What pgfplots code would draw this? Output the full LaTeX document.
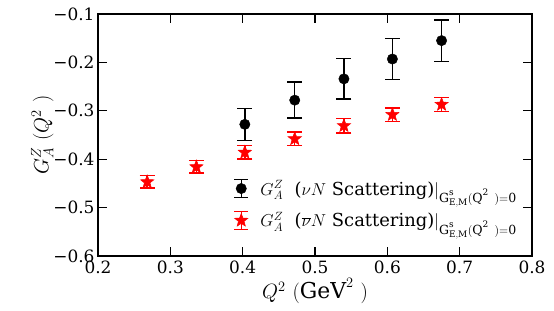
\documentclass[border=0pt]{standalone}
\usepackage{pgfplots}
\pgfplotsset{compat=1.18}
\usepackage{fontspec}
\setmainfont{DejaVu Serif}
\pgfdeclareplotmark{fstar}{%
  \pgfpathmoveto{\pgfpointpolar{90}{\pgfplotmarksize}}%
  \pgfpathlineto{\pgfpointpolar{126}{0.42\pgfplotmarksize}}%
  \pgfpathlineto{\pgfpointpolar{162}{\pgfplotmarksize}}%
  \pgfpathlineto{\pgfpointpolar{198}{0.42\pgfplotmarksize}}%
  \pgfpathlineto{\pgfpointpolar{234}{\pgfplotmarksize}}%
  \pgfpathlineto{\pgfpointpolar{270}{0.42\pgfplotmarksize}}%
  \pgfpathlineto{\pgfpointpolar{306}{\pgfplotmarksize}}%
  \pgfpathlineto{\pgfpointpolar{342}{0.42\pgfplotmarksize}}%
  \pgfpathlineto{\pgfpointpolar{18}{\pgfplotmarksize}}%
  \pgfpathlineto{\pgfpointpolar{54}{0.42\pgfplotmarksize}}%
  \pgfpathclose
  \pgfusepathqfillstroke
}
\begin{document}
\begin{tikzpicture}
\useasboundingbox (-98bp,-55bp) rectangle (456bp,256bp);
\begin{axis}[
  scale only axis, width=434bp, height=242bp,
  xmin=0.2, xmax=0.8, ymin=-0.6, ymax=-0.1,
  xtick={0.2,0.3,...,0.8}, ytick={-0.6,-0.5,...,-0.1},
  /pgf/number format/assume math mode=true,
  yticklabel={\pgfmathparse{abs(\tick)}\textminus\pgfmathprintnumber[fixed,precision=1,fixed zerofill]{\pgfmathresult}},
  xticklabel={\pgfmathprintnumber[fixed,precision=1,fixed zerofill]{\tick}},
  tick label style={font=\fontsize{17}{19}\selectfont},
  xticklabel style={yshift=-1bp},
  tick style={black, line width=1.2pt},
  major tick length=9bp,
  tick align=inside,
  axis line style={line width=1.6pt},
  xlabel={$Q^2\ (\mathrm{GeV}^2\ )$},
  ylabel={$G_A^Z\ (Q^2\ )$},
  every axis label/.append style={font=\fontsize{22}{24}\selectfont},
  xlabel style={yshift=2bp},
  ylabel style={yshift=-7bp},
  legend style={at={(0.97,0.105)}, anchor=south east, draw=none, fill=none,
    font=\fontsize{18}{20}\selectfont, row sep=12bp, inner sep=0pt},
  legend cell align=left,
  legend image code/.code={
    \path (0cm,0cm) (0.9cm,0cm);
    \draw[#1,mark=none,sharp plot,line width=1.5pt] plot coordinates {(0.3cm,-0.32cm) (0.3cm,0.32cm)};
    \draw[#1,mark=none,sharp plot,line width=1.5pt] plot coordinates {(0.05cm,-0.32cm) (0.55cm,-0.32cm)};
    \draw[#1,mark=none,sharp plot,line width=1.5pt] plot coordinates {(0.05cm,0.32cm) (0.55cm,0.32cm)};
    \draw[#1,draw=none] plot coordinates {(0.3cm,0cm)};
  },
]
\addplot+[black, only marks, mark=*, mark size=5.2bp, mark options={fill=black},
  error bars/.cd, y dir=both, y explicit, error bar style={line width=1.5pt}, error mark options={rotate=90, mark size=7.5bp, line width=1.5pt}]
  coordinates {
  (0.403,-0.328) +- (0,0.033)
  (0.472,-0.278) +- (0,0.037)
  (0.540,-0.234) +- (0,0.042)
  (0.607,-0.193) +- (0,0.042)
  (0.675,-0.155) +- (0,0.043)
};
\addlegendentry{$G_A^Z$\ \ ($\nu N$ Scattering)$\big|_{\mathrm{G^s_{E,M}(Q^2\ )=0}}$}
\addplot+[red, only marks, mark=fstar, mark size=7bp, mark options={fill=red, line width=0.5pt},
  error bars/.cd, y dir=both, y explicit, error bar style={line width=1.5pt}, error mark options={rotate=90, mark size=7.5bp, line width=1.5pt}]
  coordinates {
  (0.268,-0.447) +- (0,0.013)
  (0.336,-0.416) +- (0,0.013)
  (0.403,-0.386) +- (0,0.014)
  (0.472,-0.358) +- (0,0.014)
  (0.540,-0.331) +- (0,0.015)
  (0.607,-0.308) +- (0,0.014)
  (0.675,-0.287) +- (0,0.014)
};
\addlegendentry{$G_A^Z$\ \ ($\overline{\nu} N$ Scattering)$\big|_{\mathrm{G^s_{E,M}(Q^2\ )=0}}$}
\end{axis}
\end{tikzpicture}
\end{document}
